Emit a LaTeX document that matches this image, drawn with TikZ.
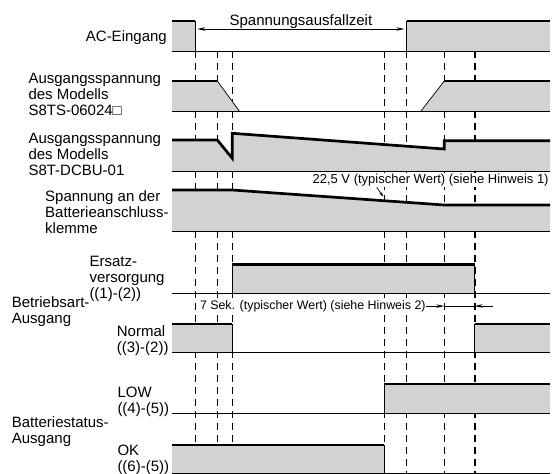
\documentclass[tikz,border=0pt]{standalone}
\usepackage{fontspec}
\setmainfont{Liberation Sans}
\usepackage{tikz}
\usetikzlibrary{arrows.meta}

\begin{document}
\begin{tikzpicture}[x=1pt, y=-1pt,
    sigtext/.style={font=\fontsize{15}{16}\selectfont, inner sep=0pt, align=left, anchor=north west},
    notetext/.style={font=\fontsize{13}{14}\selectfont, inner xsep=0.5pt, inner ysep=1pt, fill=white},
    high/.style={line width=2.7pt},
    zero/.style={line width=0.9pt},
    flank/.style={line width=0.7pt},
    sigfill/.style={fill=gray!35},
    event/.style={dash pattern=on 6.5pt off 5.5pt, line width=0.8pt},
    arrow/.style={->, >={Stealth[length=8pt, width=3.5pt]}, line width=0.7pt}
]
    \useasboundingbox (0,0) rectangle (552,474);

    % Event markers
    \foreach \t in {195,217.3,232.3,384.3,406.7,444.3}
        \draw[event] (\t,51) -- (\t,473.3);
    \draw[event, line width=2pt] (474.7,51) -- (474.7,473.3);

    % AC input
    \fill[sigfill] (172,21) rectangle (195,51);
    \fill[sigfill] (406.7,21) rectangle (550,51);
    \draw[zero] (172,51) -- (550,51);
    \draw[flank] (195,21) -- (195,51) (406.7,21) -- (406.7,51);
    \draw[high] (172,21) -- (195,21) (406.7,21) -- (550,21);

    % S8TS output
    \fill[sigfill] (172,111) -- (172,81) -- (217.3,81) -- (239.3,111) -- cycle;
    \fill[sigfill] (421,111) -- (444.3,81) -- (550,81) -- (550,111) -- cycle;
    \draw[zero] (172,111) -- (550,111);
    \draw[flank] (217.3,81) -- (239.3,111) (421,111) -- (444.3,81);
    \draw[high] (172,81) -- (217.3,81) (444.3,81) -- (550,81);

    % S8T-DCBU output
    \fill[sigfill] (172,171.7) -- (172,140) -- (217.3,140) -- (232.3,158.3) -- (232.3,133.3)
        -- (444.3,149) -- (444.3,140.7) -- (550,140.7) -- (550,171.7) -- cycle;
    \draw[zero] (172,171.7) -- (550,171.7);
    \draw[high] (172,140) -- (217.3,140) -- (232.3,158.3) -- (232.3,133.3)
        -- (444.3,149) -- (444.3,140.7) -- (550,140.7);

    % Battery terminal
    \fill[sigfill] (172,231.7) -- (172,190) -- (232.3,190) -- (444.3,205) -- (550,205) -- (550,231.7) -- cycle;
    \draw[zero] (172,231.7) -- (550,231.7);
    \draw[high] (172,190) -- (232.3,190) -- (444.3,205) -- (550,205);

    % Backup mode
    \fill[sigfill] (232.3,264.3) rectangle (474.7,293.3);
    \draw[zero] (172,293.3) -- (550,293.3);
    \draw[flank] (232.3,264.3) -- (232.3,293.3) (474.7,264.3) -- (474.7,293.3);
    \draw[high] (232.3,264.3) -- (474.7,264.3);

    % Normal mode
    \fill[sigfill] (172,324) rectangle (232.3,352.7);
    \fill[sigfill] (474.7,324) rectangle (550,352.7);
    \draw[zero] (172,352.7) -- (550,352.7);
    \draw[flank] (232.3,324) -- (232.3,352.7) (474.7,324) -- (474.7,352.7);
    \draw[high] (172,324) -- (232.3,324) (474.7,324) -- (550,324);

    % Battery LOW
    \fill[sigfill] (384.3,384) rectangle (550,413.3);
    \draw[zero] (172,413.3) -- (550,413.3);
    \draw[flank] (384.3,384) -- (384.3,413.3);
    \draw[high] (384.3,384) -- (550,384);

    % Battery OK
    \fill[sigfill] (172,445) rectangle (384.3,473.3);
    \draw[zero] (172,473.3) -- (550,473.3);
    \draw[flank] (384.3,445) -- (384.3,473.3);
    \draw[high] (172,445) -- (384.3,445);

    % Signal names
    \node[sigtext, anchor=base east] (ac) at (167,41.7) {AC-Eingang};
    \node[sigtext] (ts) at (28.3,72.7) {Ausgangsspannung\\des Modells\\S8TS-06024□};
    \node[sigtext] (dcbu) at (28.3,133) {Ausgangsspannung\\des Modells\\S8T-DCBU-01};
    \node[sigtext] (klemme) at (45,190) {Spannung an der\\Batterieanschluss-\\klemme};
    \node[sigtext] (ersatz) at (89.3,256) {Ersatz-\\versorgung\\((1)-(2))};
    \node[sigtext] (modus) at (11.7,296) {Betriebsart-\\Ausgang};
    \node[sigtext] (normal) at (116.7,325) {Normal\\((3)-(2))};
    \node[sigtext] (low) at (117.3,387.3) {LOW\\((4)-(5))};
    \node[sigtext] (status) at (11.7,416) {Batteriestatus-\\Ausgang};
    \node[sigtext] (ok) at (117.3,444.5) {OK\\((6)-(5))};

    % Outage time
    \node[notetext, fill=none, font=\fontsize{15}{16}\selectfont, anchor=base] (ausfall) at (300.9,25) {Spannungsausfallzeit};
    \coordinate (ausfallL) at (197.3,29);
    \coordinate (ausfallR) at (404.3,29);
    \draw[arrow, <->] (ausfallL) -- (ausfallR);

    % Note 1
    \node[notetext, anchor=base east] (hinweisA) at (549.3,183.3) {22,5 V (typischer Wert) (siehe Hinweis 1)};
    \coordinate (knickA) at (376.7,187.3);
    \coordinate (knickB) at (383.3,196.7);
    \draw[arrow, >={Stealth[length=5pt, width=3pt]}] (knickA) -- (knickB);

    % Note 2
    \node[notetext, font=\fontsize{12.4}{14}\selectfont, anchor=base west] (hinweisB) at (199.3,309.3) {7 Sek. (typischer Wert) (siehe Hinweis 2)};
    \coordinate (haltA) at (444.3,306);
    \coordinate (haltB) at (474.7,306);
    \coordinate (haltC) at (493,306);
    \draw[arrow] (hinweisB.east) -- (hinweisB.east -| haltA);
    \draw[flank] (haltA) -- (haltB);
    \draw[arrow] (haltC) -- (haltB);
\end{tikzpicture}
\end{document}
